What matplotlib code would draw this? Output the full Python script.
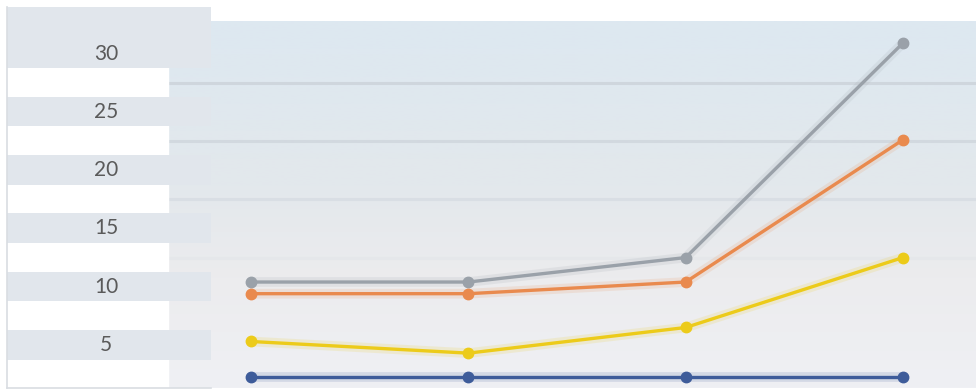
import numpy as np
import matplotlib.pyplot as plt
from matplotlib.colors import LinearSegmentedColormap

# category positions and series values
categories = [0, 1, 2, 3]
series_gray = [10.4, 10.4, 12.5, 30.9]
series_orange = [9.4, 9.4, 10.4, 22.6]
series_yellow = [5.3, 4.3, 6.5, 12.5]
series_blue = [2.25, 2.25, 2.25, 2.25]
tick_values = [5, 10, 15, 20, 25, 30]
grid_values = [7.5, 12.5, 17.5, 22.5, 27.5]

W, H = 976, 389


def main():
    fig = plt.figure(figsize=(W / 100, H / 100), dpi=100)
    fig.patch.set_facecolor('white')

    # plot area
    ax = fig.add_axes([168 / W, 1 / H, 808 / W, 367 / H])
    ax.set_xlim(-0.382, 3.336)
    ax.set_ylim(1.31, 32.79)
    for s in ax.spines.values():
        s.set_visible(False)
    ax.set_xticks([])
    ax.set_yticks([])

    # soft vertical gradient behind the lines
    bg = LinearSegmentedColormap.from_list('bg', [
        (0.0, '#eff0f4'), (0.3, '#ececee'), (0.55, '#e3e8ec'), (1.0, '#dde8f1')])
    grad = np.linspace(0, 1, 256).reshape(-1, 1)
    ax.imshow(grad, cmap=bg, aspect='auto', origin='lower',
              extent=[-0.382, 3.336, 1.31, 32.79], zorder=0)

    # gridlines fade out towards the bottom
    for g in grid_values:
        a = min(1.0, max(0.0, (g - 10) / 15))
        ax.axhline(g, color='#cfd6dd', lw=2.2, alpha=a, zorder=1)

    styles = [
        (series_gray, '#9aa1a9'),
        (series_orange, '#e98a4e'),
        (series_yellow, '#eccb1a'),
        (series_blue, '#3e5c9a'),
    ]
    for vals, col in styles:
        ax.plot(categories, vals, color=col, lw=7, alpha=0.15,
                solid_capstyle='round', zorder=2)
        ax.plot(categories, vals, color=col, lw=2.4, marker='o',
                markersize=7.5, zorder=3)

    # label column with alternating bands
    lab = fig.add_axes([7 / W, 1 / H, 204 / W, 381 / H])
    lab.set_xlim(0, 1)
    lab.set_ylim(1.31, 33.99)
    lab.patch.set_alpha(0)
    lab.set_xticks([])
    lab.set_yticks([])
    for name in ['top', 'right']:
        lab.spines[name].set_visible(False)
    for name in ['left', 'bottom']:
        lab.spines[name].set_color('#d9dde2')
        lab.spines[name].set_linewidth(1.2)

    white_w = 161 / 204
    lab.fill_between([0, white_w], 1.31, 33.99, color='white', zorder=1)
    for v in tick_values:
        top = 33.99 if v == max(tick_values) else v + 1.3
        lab.fill_between([0, 1], v - 1.25, top, color='#e1e6ec', lw=0, zorder=2)
        lab.text(0.485, v, str(v), ha='center', va='center', fontsize=15,
                 family='Lato', color='#5a5a5a', zorder=3)

    fig.savefig('out.png', dpi=100)


if __name__ == "__main__":
    main()
